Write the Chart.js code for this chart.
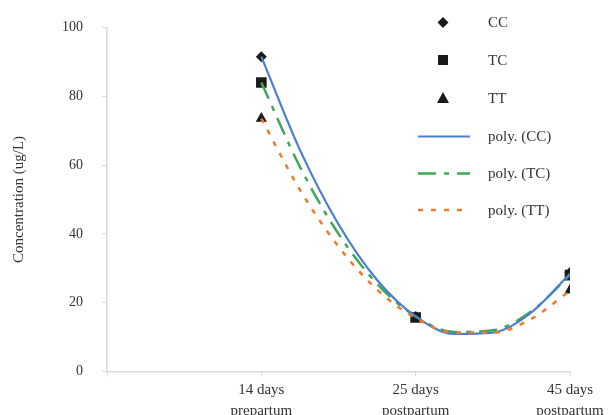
<!DOCTYPE html>
<html>
<head>
<meta charset="UTF-8" />
<title>Concentration</title>
<script src="https://cdn.jsdelivr.net/npm/chart.js"></script>
<style>
  body { margin: 0; background: #fff; }
</style>
</head>
<body>
<canvas id="myChart" width="612" height="415"></canvas>
<script>
// categories at x = 1, 2, 3
const categories = [['14 days', 'prepartum'], ['25 days', 'postpartum'], ['45 days', 'postpartum']];
const catX = [1, 2, 3];

// measured values
const ccValues = [91.5, 16, 28.8];
const tcValues = [84, 15.7, 28];
const ttValues = [73.5, 15.5, 23.6];

// trendline curves
const trendX = [1, 1.25, 1.5, 1.75, 2, 2.25, 2.5, 2.75, 3];
const polyCC = [91.5, 64.4, 42.8, 26.6, 16, 10.9, 11.3, 17.2, 28.4];
const polyTC = [84, 59.5, 40, 25.5, 16, 11.5, 12, 17.5, 28];
const polyTT = [73.5, 52.8, 36.3, 23.8, 15.5, 11.3, 11.3, 15.3, 23.5];

const yTicks = [0, 20, 40, 60, 80, 100];

const serif = '"Liberation Serif", "Times New Roman", serif';
const textColor = '#333333';
const axisColor = '#d9d9d9';

function pts(xs, ys) {
  return xs.map((x, i) => ({ x: x, y: ys[i] }));
}

// legend drawn by hand on the right side
const sideLegend = {
  id: 'sideLegend',
  afterDraw(chart) {
    const ctx = chart.ctx;
    const mx = 443, tx = 488;
    const rows = [22.5, 60, 98, 136.5, 173.5, 210];
    ctx.save();
    chart.data.datasets.forEach((ds, i) => {
      const y = rows[i];
      if (ds.showLine) {
        ctx.strokeStyle = ds.borderColor;
        ctx.lineWidth = ds.borderWidth;
        ctx.setLineDash(ds.borderDash || []);
        ctx.beginPath();
        ctx.moveTo(418, y);
        ctx.lineTo(470, y);
        ctx.stroke();
        ctx.setLineDash([]);
      } else {
        ctx.fillStyle = ds.backgroundColor;
        ctx.beginPath();
        if (ds.pointStyle === 'rectRot') {
          ctx.moveTo(mx, y - 5.5); ctx.lineTo(mx + 5.5, y); ctx.lineTo(mx, y + 5.5); ctx.lineTo(mx - 5.5, y);
        } else if (ds.pointStyle === 'rect') {
          ctx.rect(mx - 5, y - 5, 10, 10);
        } else {
          ctx.moveTo(mx, y - 6); ctx.lineTo(mx + 6, y + 5); ctx.lineTo(mx - 6, y + 5);
        }
        ctx.closePath();
        ctx.fill();
      }
      ctx.fillStyle = textColor;
      ctx.font = '15px ' + serif;
      ctx.textBaseline = 'middle';
      ctx.textAlign = 'left';
      ctx.fillText(ds.label, tx, y + 1);
    });
    ctx.restore();
  }
};

const ctx = document.getElementById('myChart').getContext('2d');
new Chart(ctx, {
  type: 'scatter',
  data: {
    datasets: [
      { label: 'CC', data: pts(catX, ccValues), pointStyle: 'rectRot', pointRadius: 5.5,
        backgroundColor: '#1a1a1a', borderColor: '#1a1a1a', borderWidth: 0, order: 2 },
      { label: 'TC', data: pts(catX, tcValues), pointStyle: 'rect', pointRadius: 7.5,
        backgroundColor: '#1a1a1a', borderColor: '#1a1a1a', borderWidth: 0, order: 2 },
      { label: 'TT', data: pts(catX, ttValues), pointStyle: 'triangle', pointRadius: 6.5,
        backgroundColor: '#1a1a1a', borderColor: '#1a1a1a', borderWidth: 0, order: 2 },
      { label: 'poly. (CC)', data: pts(trendX, polyCC), showLine: true, pointRadius: 0,
        borderColor: '#4a7fd0', borderWidth: 2.2, cubicInterpolationMode: 'monotone', order: 1 },
      { label: 'poly. (TC)', data: pts(trendX, polyTC), showLine: true, pointRadius: 0,
        borderColor: '#3fa857', borderWidth: 2.5, borderDash: [18, 8, 5, 8], cubicInterpolationMode: 'monotone', order: 1 },
      { label: 'poly. (TT)', data: pts(trendX, polyTT), showLine: true, pointRadius: 0,
        borderColor: '#f07a2c', borderWidth: 2.5, borderDash: [5, 8], cubicInterpolationMode: 'monotone', order: 0 }
    ]
  },
  options: {
    responsive: false,
    animation: false,
    devicePixelRatio: 1,
    layout: { padding: { top: 26, right: 42, left: 0, bottom: 0 } },
    plugins: { legend: { display: false }, tooltip: { enabled: false } },
    scales: {
      x: {
        type: 'linear', min: 0, max: 3,
        afterBuildTicks: (scale) => { scale.ticks = [0, ...catX].map(v => ({ value: v })); },
        ticks: {
          color: textColor, padding: 3,
          font: { family: serif, size: 15, lineHeight: 1.4 },
          maxRotation: 0, autoSkip: false,
          callback: (v) => { const i = catX.indexOf(v); return i < 0 ? '' : categories[i]; }
        },
        grid: { drawOnChartArea: false, drawTicks: true, tickLength: 5, color: axisColor },
        border: { color: axisColor, width: 1.5 },
        afterFit: (scale) => { scale.height = 43.5; }
      },
      y: {
        min: 0, max: 100,
        afterBuildTicks: (scale) => { scale.ticks = yTicks.map(v => ({ value: v })); },
        ticks: { color: textColor, padding: 19, font: { family: serif, size: 14 } },
        grid: { drawOnChartArea: false, drawTicks: true, tickLength: 5, color: axisColor },
        border: { color: axisColor, width: 1.5 },
        title: {
          display: true, text: 'Concentration (ug/L)', color: textColor,
          font: { family: serif, size: 15 }, padding: { top: 10, bottom: 0 }
        },
        afterFit: (scale) => { scale.width = 107; }
      }
    }
  },
  plugins: [sideLegend]
});
</script>
</body>
</html>
